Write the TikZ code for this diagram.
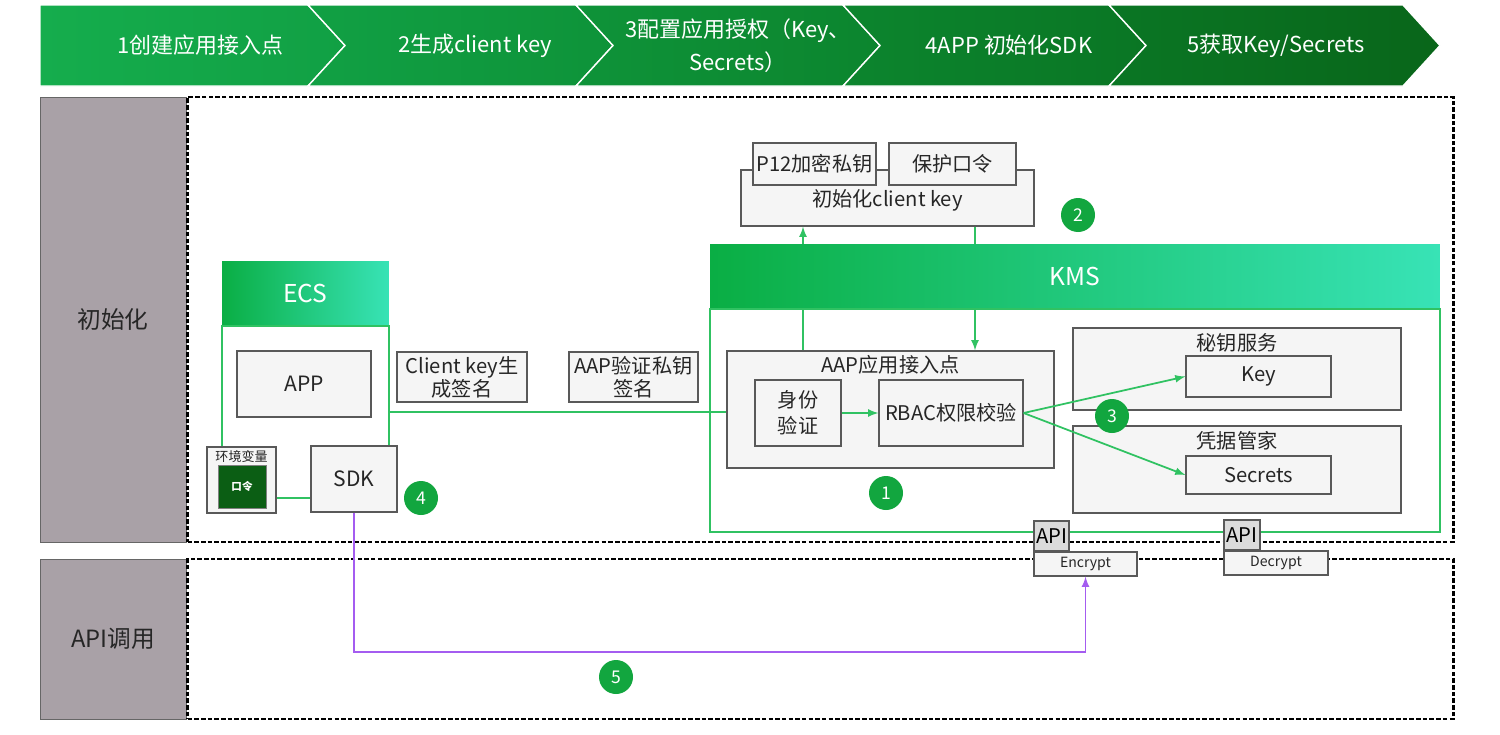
\documentclass[tikz,border=0pt]{standalone}
\usepackage{fontspec}
\setmainfont{Noto Sans CJK SC}
\usetikzlibrary{positioning, calc}

\definecolor{chevA}{HTML}{15AD4D}
\definecolor{chevB}{HTML}{11A044}
\definecolor{chevC}{HTML}{0E9339}
\definecolor{chevD}{HTML}{0C852E}
\definecolor{chevE}{HTML}{0A7624}
\definecolor{chevF}{HTML}{09661A}
\definecolor{laneGray}{HTML}{A9A1A7}
\definecolor{hdrL}{HTML}{0AAE44}
\definecolor{hdrR}{HTML}{38E3B6}
\definecolor{linkGreen}{HTML}{30C262}
\definecolor{numGreen}{HTML}{12A63F}
\definecolor{pwGreen}{HTML}{0B5E14}
\definecolor{apiPurple}{HTML}{A45CF0}

\begin{document}
\begin{tikzpicture}[x=0.02cm, y=-0.02cm,
% Define custom styles for nodes
    mybox/.style={
        draw=black!65,
        fill=black!4,
        line width=0.7pt,
        inner sep=1pt,
        text=black!85,
        align=center,
        font=\fontsize{11.5}{14}\selectfont
        },
    boxtitle/.style={text=black!85, inner sep=0pt, font=\fontsize{11.5}{13}\selectfont},
    lane/.style={draw=black!60, fill=laneGray, minimum width=2.92cm, text=black!85, font=\fontsize{13.5}{16}\selectfont},
    area/.style={draw=black, line width=1.5pt, dash pattern=on 2.6pt off 1.2pt, minimum width=25.32cm},
    header/.style={left color=hdrL, right color=hdrR, text=white, minimum height=1.26cm, font=\fontsize{14}{16}\selectfont},
    frame/.style={draw=linkGreen, line width=0.8pt},
    num/.style={circle, fill=numGreen, text=white, minimum size=0.68cm, inner sep=0pt, font=\fontsize{10}{12}\selectfont},
    chev/.style={draw=white, line width=0.8pt},
    chevtext/.style={text=white, align=center, font=\fontsize{12.5}{19}\selectfont},
    link/.style={draw=linkGreen, line width=1pt, >=latex},
    apicall/.style={draw=apiPurple, line width=1pt, >=latex}
]
\useasboundingbox (0,0) rectangle (1500,734);

% steps on top
\draw[chev, left color=chevA, right color=chevB] (40,5) -- (308,5) -- (345,45.5) -- (308,86) -- (40,86) -- cycle;
\draw[chev, left color=chevB, right color=chevC] (308,5) -- (576,5) -- (613,45.5) -- (576,86) -- (308,86) -- (345,45.5) -- cycle;
\draw[chev, left color=chevC, right color=chevD] (576,5) -- (843,5) -- (880,45.5) -- (843,86) -- (576,86) -- (613,45.5) -- cycle;
\draw[chev, left color=chevD, right color=chevE] (843,5) -- (1109,5) -- (1146,45.5) -- (1109,86) -- (843,86) -- (880,45.5) -- cycle;
\draw[chev, left color=chevE, right color=chevF] (1109,5) -- (1403,5) -- (1440,45.5) -- (1403,86) -- (1109,86) -- (1146,45.5) -- cycle;

\node[chevtext] (S1) at (200,45.5) {1创建应用接入点};
\node[chevtext] (S2) at (475,45.5) {2生成client key};
\node[chevtext] (S3) at (738,45.5) {3配置应用授权（Key、\\Secrets）};
\node[chevtext] (S4) at (1009,45.5) {4APP 初始化SDK};
\node[chevtext] (S5) at (1276,45.5) {5获取Key/Secrets};

% lanes
\node[lane, minimum height=8.9cm] (INIT) at (113,319.5) {初始化};
\node[area, minimum height=8.9cm, right=0pt of INIT] (INITarea) {};
\node[lane, minimum height=3.2cm] (CALL) at (113,639) {API调用};
\node[area, minimum height=3.2cm, right=0pt of CALL] (CALLarea) {};

% ECS
\node[frame, minimum width=3.34cm, minimum height=3.44cm] (ECSbody) at (305.5,412) {};
\node[mybox, minimum width=2.68cm, minimum height=1.32cm, font=\fontsize{12}{14}\selectfont] (APP) at (304,384) {APP};
\node[mybox, minimum width=1.38cm, minimum height=1.32cm] (ENV) at (241.5,480) {};
\node[boxtitle, font=\fontsize{7.4}{8}\selectfont] (ENVtitle) at (241.5,457) {环境变量};
\node[draw=black!50, fill=pwGreen, text=white, minimum width=0.96cm, minimum height=0.86cm, font=\fontsize{6}{7}\selectfont\bfseries] (PW) at (242,486.5) {口令};
\node[mybox, minimum width=1.72cm, minimum height=1.32cm, font=\fontsize{12}{14}\selectfont] (SDK) at (354,479) {SDK};
\node[num] (N4) at (421,498) {4};
\node[header, minimum width=3.34cm, above=0pt of ECSbody] (ECS) {ECS};

% signatures
\node[mybox, minimum width=2.6cm, minimum height=1cm, font=\fontsize{11.5}{13}\selectfont] (CKSIGN) at (462,377) {Client key生\\成签名};
\node[mybox, minimum width=2.58cm, minimum height=1cm, font=\fontsize{11.5}{13}\selectfont] (AAPSIGN) at (633.5,377) {AAP验证私钥\\签名};

% client key
\node[mybox, minimum width=5.86cm, minimum height=1.12cm] (CKINIT) at (887.5,198) {};
\node[boxtitle] (CKtitle) at (887.5,200) {初始化client key};
\node[mybox, minimum width=2.46cm, minimum height=0.84cm] (P12) at (814.5,164) {P12加密私钥};
\node[mybox, minimum width=2.54cm, minimum height=0.84cm] (PROT) at (952.5,164) {保护口令};
\node[num] (N2) at (1078,215) {2};

% KMS
\node[frame, minimum width=14.6cm, minimum height=4.46cm] (KMSbody) at (1075,420.5) {};
\node[mybox, minimum width=6.54cm, minimum height=2.34cm] (AAP) at (890.5,409.5) {};
\node[boxtitle] (AAPtitle) at (890.5,365) {AAP应用接入点};
\node[mybox, minimum width=1.72cm, minimum height=1.32cm, font=\fontsize{11.5}{15}\selectfont] (ID) at (798,413) {身份\\验证};
\node[mybox, minimum width=2.88cm, minimum height=1.32cm] (RBAC) at (951,413) {RBAC权限校验};

\node[mybox, minimum width=6.56cm, minimum height=1.64cm] (KEYSVC) at (1237,369) {};
\node[boxtitle] (KEYtitle) at (1237,343) {秘钥服务};
\node[mybox, minimum width=2.9cm, minimum height=0.82cm] (KEY) at (1258.5,376.5) {Key};
\node[mybox, minimum width=6.56cm, minimum height=1.74cm] (SECMGR) at (1237,469.5) {};
\node[boxtitle] (SECtitle) at (1237,441) {凭据管家};
\node[mybox, minimum width=2.9cm, minimum height=0.76cm] (SEC) at (1258.5,475) {Secrets};

\draw[link, ->] ($(AAP.north)+(-87.5,0)$) -- ($(CKINIT.south)+(-84.5,0)$);
\draw[link, ->] ($(CKINIT.south)+(87.5,0)$) -- ($(AAP.north)+(84.5,0)$);
\node[header, minimum width=14.6cm, above=0pt of KMSbody] (KMS) {KMS};

\draw[link] (ECSbody.east) -- (ECSbody.east -| AAP.west);
\draw[link, ->] (ID.east) -- (RBAC.west);
\draw[link, ->] (RBAC.east) -- (KEY.west);
\draw[link, ->] (RBAC.east) -- (SEC.west);

\node[num] (N1) at (886,493) {1};
\node[num] (N3) at (1112,416) {3};

% API
\node[mybox, fill=black!14, minimum width=0.7cm, minimum height=0.6cm, text=black] (API1) at (1051.5,536) {API};
\node[mybox, minimum width=2.06cm, minimum height=0.48cm, font=\fontsize{8}{9}\selectfont] (ENC) at (1085.5,564) {Encrypt};
\node[mybox, fill=black!14, minimum width=0.72cm, minimum height=0.6cm, text=black] (API2) at (1242,535) {API};
\node[mybox, minimum width=2.08cm, minimum height=0.48cm, font=\fontsize{8}{9}\selectfont] (DEC) at (1276,563) {Decrypt};

\coordinate (TURN) at (0,652);
\draw[apicall, ->] (SDK.south) -- (SDK.south |- TURN) -| (ENC.south);
\node[num] (N5) at (616,677) {5};

\end{tikzpicture}
\end{document}
